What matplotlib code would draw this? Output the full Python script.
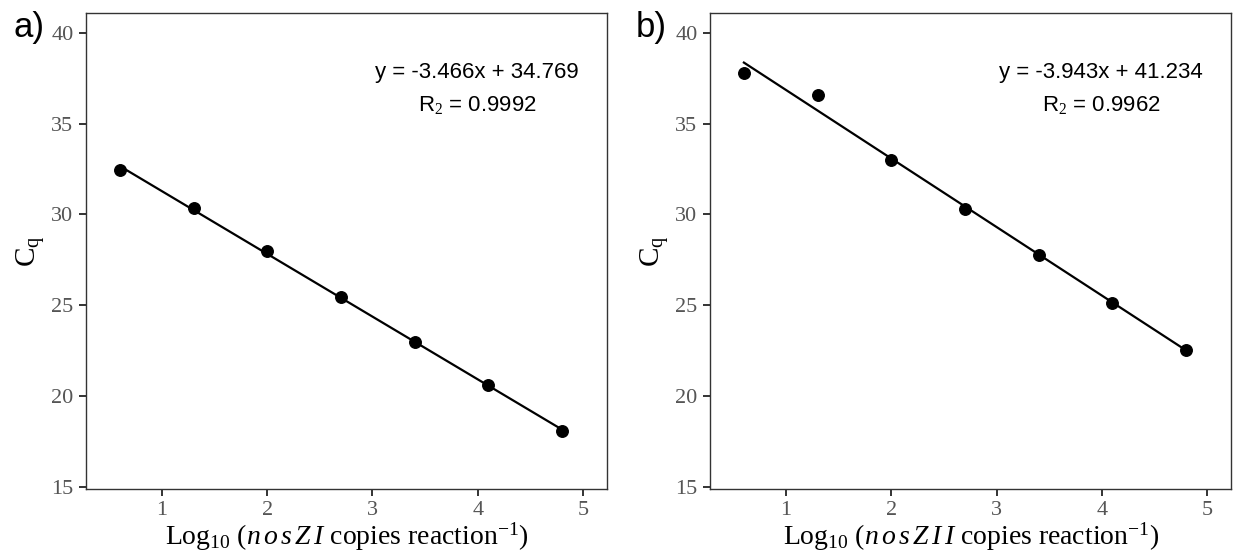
import numpy as np
import matplotlib
matplotlib.use('Agg')
import matplotlib.pyplot as plt

plt.rcParams['mathtext.fontset'] = 'custom'
plt.rcParams['mathtext.rm'] = 'Liberation Serif'
plt.rcParams['mathtext.it'] = 'Liberation Serif:italic'

# ── Dados ────────────────────────────────────────────────────────────────────
log_copies = [0.6, 1.3, 2.0, 2.7, 3.4, 4.1, 4.8]
cq_nosZI   = [32.45, 30.35, 28.0, 25.45, 22.95, 20.6, 18.05]
cq_nosZII  = [37.8, 36.6, 33.0, 30.3, 27.75, 25.1, 22.55]

panel_labels = ['a)', 'b)']
genes        = ['nosZI', 'nosZII']
equations    = ['y = -3.466x + 34.769', 'y = -3.943x + 41.234']
r2_labels    = ['R$_2$ = 0.9992', 'R$_2$ = 0.9962']
y_ticks      = [15, 20, 25, 30, 35, 40]
x_ticks      = [1, 2, 3, 4, 5]

fig = plt.figure(figsize=(12.35, 5.6), dpi=100)
axes = [fig.add_axes([0.0696, 0.1268, 0.4219, 0.8505]),
        fig.add_axes([0.5749, 0.1268, 0.4219, 0.8505])]

frame_col = '#333333'
for k, (ax, cq) in enumerate(zip(axes, [cq_nosZI, cq_nosZII])):
    x = np.array(log_copies)
    y = np.array(cq)
    slope, icpt = np.polyfit(x, y, 1)
    ax.plot(x, slope * x + icpt, color='black', lw=1.6, zorder=2)
    ax.plot(x, y, 'o', color='black', markersize=8.3, zorder=3)

    ax.set_xlim(0.278, 5.228)
    ax.set_ylim(14.87, 41.12)
    ax.set_xticks(x_ticks)
    ax.set_yticks(y_ticks)
    for sp in ax.spines.values():
        sp.set_color(frame_col)
        sp.set_linewidth(1.0)
    ax.tick_params(direction='out', length=5, width=1.4, color=frame_col,
                   labelsize=16, labelcolor='#555555', pad=4)
    for lbl in ax.get_xticklabels() + ax.get_yticklabels():
        lbl.set_family('Liberation Serif')

    spaced = r'\,'.join(genes[k])
    ax.set_xlabel(r'Log$_{10}$ ($\mathit{' + spaced + r'}$ copies reaction$^{-1}$)',
                  family='Liberation Serif', fontsize=20, labelpad=0)
    ax.set_ylabel(r'C$_\mathrm{q}$', family='Liberation Serif', fontsize=21,
                  labelpad=3)

    ax.text(0.751, 0.8755, equations[k], transform=ax.transAxes, ha='center',
            va='center', family='Liberation Sans', fontsize=16)
    ax.text(0.751, 0.8068, r2_labels[k], transform=ax.transAxes, ha='center',
            va='center', family='Liberation Sans', fontsize=16)

fig.text(0.011, 0.95, panel_labels[0], family='Liberation Sans', fontsize=25,
         va='center', ha='left')
fig.text(0.515, 0.95, panel_labels[1], family='Liberation Sans', fontsize=25,
         va='center', ha='left')

fig.savefig('out.png', dpi=100)
